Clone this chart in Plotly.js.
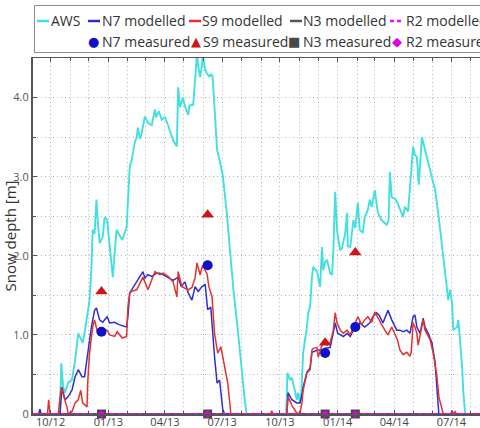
<!DOCTYPE html>
<html>
<head>
<meta charset="utf-8">
<script src="https://cdn.plot.ly/plotly-3.0.1.min.js"></script>
<style>
  html, body { margin: 0; padding: 0; background: #fff; overflow: hidden; }
  #chart { width: 480px; height: 428px; }
</style>
</head>
<body>
<div id="chart"></div>
<script>
// ---- Snow depth series (m) ----
const awsDates = [
  '2012-09-03','2012-10-16','2012-10-18','2012-10-21','2012-10-24','2012-10-29','2012-11-04','2012-11-09',
  '2012-11-14','2012-11-18','2012-11-21','2012-11-24','2012-11-29','2012-12-02','2012-12-05','2012-12-07',
  '2012-12-10','2012-12-13','2012-12-15','2012-12-18','2012-12-23','2012-12-26','2012-12-30','2013-01-03',
  '2013-01-08','2013-01-14','2013-01-18','2013-01-23','2013-01-30','2013-02-01','2013-02-04','2013-02-07',
  '2013-02-12','2013-02-15','2013-02-17','2013-02-20','2013-02-23','2013-02-28','2013-03-03','2013-03-05',
  '2013-03-11','2013-03-16','2013-03-18','2013-03-22','2013-03-27','2013-04-01','2013-04-06','2013-04-14',
  '2013-04-20','2013-04-22','2013-04-25','2013-04-27','2013-04-30','2013-05-02','2013-05-08','2013-05-10',
  '2013-05-16','2013-05-19','2013-05-22','2013-05-24','2013-05-27','2013-05-30','2013-05-31','2013-06-04',
  '2013-06-07','2013-06-11','2013-06-13','2013-06-16','2013-06-19','2013-06-23','2013-06-27','2013-07-02',
  '2013-07-08','2013-07-13','2013-07-19','2013-07-26','2013-08-01','2013-08-06','2013-08-09',
  '2013-10-11','2013-10-13','2013-10-17','2013-10-20','2013-10-22','2013-10-25','2013-10-28','2013-10-30',
  '2013-11-02','2013-11-04','2013-11-07','2013-11-10','2013-11-13','2013-11-15','2013-11-18','2013-11-21',
  '2013-11-23','2013-11-29','2013-12-01','2013-12-04','2013-12-07','2013-12-09','2013-12-12','2013-12-15',
  '2013-12-20','2013-12-23','2013-12-25','2013-12-28','2013-12-31','2014-01-05','2014-01-08','2014-01-13',
  '2014-01-16','2014-01-17','2014-01-21','2014-01-26','2014-01-29','2014-02-02','2014-02-05','2014-02-10',
  '2014-02-13','2014-02-18','2014-02-21','2014-02-24','2014-03-01','2014-03-06','2014-03-12','2014-03-20',
  '2014-03-23','2014-03-25','2014-03-28','2014-04-02','2014-04-06','2014-04-10','2014-04-15','2014-04-18',
  '2014-04-23','2014-04-28','2014-05-01','2014-05-04','2014-05-07','2014-05-10','2014-05-15','2014-05-20',
  '2014-05-28','2014-06-02','2014-06-05','2014-06-10','2014-06-16','2014-06-21','2014-06-26','2014-06-29',
  '2014-07-02','2014-07-04','2014-07-10','2014-07-12','2014-07-15','2014-07-18','2014-07-20','2014-07-23',
  '2014-08-15'
];
const awsDepth = [
  0, 0, 0.64, 0.34, 0.27, 0.40, 0.43, 0.68,
  1.02, 0.96, 0.90, 1.02, 1.28, 1.44, 1.86, 2.33,
  2.28, 2.71, 2.45, 2.16, 2.24, 2.49, 2.45, 2.11,
  1.73, 2.33, 2.28, 2.20, 2.36, 2.62, 3.12, 3.21,
  3.43, 3.50, 3.62, 3.48, 3.55, 3.76, 3.72, 3.68,
  3.65, 3.85, 3.75, 3.83, 3.72, 3.75, 3.65, 3.46,
  3.38, 4.13, 3.88, 3.92, 4.00, 3.91, 3.78, 3.90,
  3.91, 4.22, 4.55, 4.40, 4.26, 4.41, 4.55, 4.35,
  4.30, 4.26, 4.30, 4.26, 3.88, 3.34, 3.21, 3.02,
  2.58, 2.14, 1.57, 1.06, 0.56, 0.18, 0,
  0, 0.52, 0.43, 0.46, 0.39, 0.30, 0.18, 0.27,
  0.14, 0.25, 0.77, 0.94, 1.10, 1.28, 1.35, 1.73,
  1.86, 1.80, 1.72, 1.61, 2.11, 1.82, 1.92, 1.95,
  1.78, 1.76, 2.05, 2.81, 2.31, 2.07, 2.10, 2.29,
  2.54, 2.12, 2.11, 2.45, 2.35, 2.67, 2.33, 2.29,
  2.49, 2.58, 2.71, 2.62, 2.83, 2.54, 2.45, 2.39,
  2.45, 3.06, 2.74, 2.72, 2.67, 2.58, 2.49, 2.62,
  2.56, 3.06, 3.38, 3.27, 3.25, 2.90, 3.50, 3.34,
  3.09, 2.95, 2.83, 2.54, 2.11, 1.82, 1.44, 1.57,
  1.40, 1.06, 1.10, 1.19, 0.94, 0.60, 0.27, 0,
  0
];

const n7Dates = [
  '2012-09-03','2012-09-12','2012-09-14','2012-09-16','2012-10-16','2012-10-19','2012-10-24','2012-10-29',
  '2012-11-04','2012-11-09','2012-11-14','2012-11-20','2012-11-24','2012-11-29','2012-12-05','2012-12-10',
  '2012-12-13','2012-12-18','2012-12-23','2012-12-30','2013-01-03','2013-01-11','2013-01-18','2013-01-30',
  '2013-02-01','2013-02-04','2013-02-07','2013-02-12','2013-02-17','2013-02-25','2013-02-28','2013-03-05',
  '2013-03-11','2013-03-19','2013-03-24','2013-04-01','2013-04-14','2013-04-22','2013-04-27','2013-05-03',
  '2013-05-08','2013-05-14','2013-05-19','2013-05-24','2013-05-30','2013-06-04','2013-06-08','2013-06-13',
  '2013-06-19','2013-06-23','2013-06-27','2013-07-02','2013-07-05',
  '2013-10-12','2013-10-14','2013-10-17','2013-10-20','2013-10-28','2013-11-02','2013-11-05','2013-11-07',
  '2013-11-13','2013-11-18','2013-11-21','2013-12-01','2013-12-07','2013-12-12','2013-12-20','2013-12-25',
  '2013-12-28','2014-01-01','2014-01-10','2014-01-16','2014-01-21','2014-01-26','2014-02-01','2014-02-05',
  '2014-02-13','2014-02-21','2014-02-26','2014-03-04','2014-03-08','2014-03-14','2014-03-20','2014-03-22',
  '2014-03-28','2014-04-05','2014-04-10','2014-04-15','2014-04-21','2014-04-26','2014-05-01','2014-05-04',
  '2014-05-07','2014-05-12','2014-05-17','2014-05-20','2014-05-25','2014-05-31','2014-06-05','2014-06-08',
  '2014-06-11','2014-08-15'
];
const n7Depth = [
  0, 0, 0.06, 0, 0, 0.34, 0.18, 0.22,
  0.30, 0.47, 0.56, 0.47, 0.47, 0.77, 1.10, 1.31,
  1.34, 1.19, 1.16, 1.23, 1.15, 1.16, 1.13, 1.10,
  1.23, 1.53, 1.57, 1.62, 1.69, 1.80, 1.72, 1.76,
  1.74, 1.78, 1.78, 1.75, 1.69, 1.73, 1.61, 1.67,
  1.53, 1.44, 1.61, 1.55, 1.61, 1.64, 1.32, 1.35,
  0.72, 0.39, 0.43, 0.06, 0,
  0, 0.27, 0.22, 0.18, 0.14, 0.14, 0.24, 0.34,
  0.53, 0.58, 0.78, 0.81, 0.81, 0.83, 0.84, 1.02,
  1.15, 1.02, 0.98, 1.02, 0.98, 1.06, 1.09, 1.15,
  1.10, 1.15, 1.23, 1.28, 1.25, 1.15, 1.28, 1.31,
  1.19, 1.06, 1.06, 1.04, 1.06, 1.02, 1.23, 1.25,
  1.10, 1.02, 1.21, 1.10, 1.02, 0.90, 0.65, 0.30,
  0, 0
];

const s9Dates = [
  '2012-09-03','2012-09-26','2012-09-28','2012-09-30','2012-10-13','2012-10-18','2012-10-22','2012-10-27',
  '2012-10-29','2012-11-04','2012-11-09','2012-11-14','2012-11-18','2012-11-21','2012-11-28','2012-11-29',
  '2012-12-02','2012-12-07','2012-12-10','2012-12-15','2012-12-21','2012-12-30','2013-01-03','2013-01-11',
  '2013-01-15','2013-01-23','2013-01-30','2013-02-01','2013-02-04','2013-02-07','2013-02-15','2013-02-25',
  '2013-03-05','2013-03-16','2013-03-24','2013-03-29','2013-04-06','2013-04-14','2013-04-20','2013-04-22',
  '2013-04-28','2013-05-08','2013-05-14','2013-05-19','2013-05-22','2013-05-27','2013-05-31','2013-06-07',
  '2013-06-10','2013-06-15','2013-06-19','2013-06-24','2013-06-29','2013-07-02','2013-07-10','2013-07-15',
  '2013-09-16','2013-09-18','2013-09-20',
  '2013-10-12','2013-10-13','2013-10-14','2013-10-20','2013-10-28','2013-11-02','2013-11-05','2013-11-07',
  '2013-11-13','2013-11-18','2013-11-21','2013-11-23','2013-11-29','2013-12-01','2013-12-07','2013-12-09',
  '2013-12-15','2013-12-20','2013-12-25','2013-12-28','2013-12-31','2014-01-05','2014-01-10','2014-01-16',
  '2014-01-21','2014-01-26','2014-02-02','2014-02-08','2014-02-13','2014-02-18','2014-02-24','2014-03-01',
  '2014-03-06','2014-03-12','2014-03-17','2014-03-22','2014-03-28','2014-04-02','2014-04-06','2014-04-10',
  '2014-04-15','2014-04-21','2014-04-26','2014-04-28','2014-05-01','2014-05-04','2014-05-07','2014-05-09',
  '2014-05-17','2014-05-20','2014-05-28','2014-06-02','2014-06-08','2014-06-11','2014-06-16','2014-06-18',
  '2014-06-30','2014-07-02','2014-07-04','2014-07-07','2014-07-09','2014-08-15'
];
const s9Depth = [
  0, 0, 0.18, 0, 0, 0.34, 0.22, 0.09,
  0, 0.03, 0.14, 0.18, 0.30, 0.14, 0.09, 0.39,
  0.77, 1.10, 1.19, 1.02, 1.06, 1.06, 1.00, 0.98,
  1.04, 0.96, 0.98, 1.35, 1.53, 1.55, 1.57, 1.73,
  1.57, 1.80, 1.76, 1.78, 1.74, 1.67, 1.48, 1.80,
  1.61, 1.57, 1.60, 1.72, 1.91, 1.76, 1.88, 1.77,
  1.61, 1.48, 1.02, 0.77, 0.85, 0.72, 0.39, 0,
  0, 0.04, 0,
  0, 0.18, 0.22, 0.11, 0.01, 0.01, 0.14, 0.30,
  0.52, 0.56, 0.81, 0.83, 0.84, 0.72, 0.87, 0.92,
  0.87, 0.90, 1.06, 1.28, 1.15, 1.06, 1.02, 1.06,
  1.00, 1.10, 1.23, 1.13, 1.19, 1.23, 1.16, 1.29,
  1.21, 1.13, 1.06, 1.00, 1.10, 1.00, 0.94, 0.81,
  0.75, 0.78, 0.73, 0.78, 1.15, 1.10, 1.02, 0.87,
  1.19, 1.06, 0.94, 0.77, 0.47, 0.22, 0.05, 0,
  0, 0.04, 0, 0.03, 0, 0
];

const n3Dates = ['2012-09-03', '2014-08-15'];
const n3Depth = [0, 0];
const r2Dates = ['2012-09-03', '2014-08-15'];
const r2Depth = [0, 0];

// Field survey dates and measured depths (m)
const surveyDates = ['2012-12-21', '2013-06-08', '2013-12-12', '2014-01-29'];
const n7Measured = [1.04, 1.88, 0.77, 1.10];
const s9Measured = [1.55, 2.52, 0.90, 2.04];
const n3Measured = [0, 0, 0, 0];
const r2Measured = [0, 0, 0, 0];

// Axis labels
const yTickVals = [0, 1, 2, 3, 4];
const yTickText = ['0', '1.0', '2.0', '3.0', '4.0'];
const xRange = ['2012-09-03', '2014-08-15 12:00'];
const yTitle = 'Snow depth [m]';

// ---- Styling ----
const C = {
  aws: '#40e0e0', n7: '#2e2ed0', s9: '#e23330', n3: '#555555', r2: '#ff00ff',
  n7m: '#1010c8', s9m: '#d01414', n3m: '#484848', r2m: '#e000e0'
};

const W = 480, H = 428;
const M = { l: 33, r: 0, t: 58, b: 14 };
const PW = W - M.l - M.r, PH = H - M.t - M.b;
const px = p => (p - M.l) / PW;          // page x (px) -> paper x
const py = p => (H - M.b - p) / PH;      // page y (px) -> paper y

const lineTrace = (x, y, name, color, width, dash) => ({
  type: 'scatter', mode: 'lines', x, y, name,
  line: { color, width, dash: dash || 'solid' }, showlegend: false, hoverinfo: 'skip'
});
const markTrace = (x, y, name, color, symbol, size) => ({
  type: 'scatter', mode: 'markers', x, y, name, cliponaxis: false,
  marker: { color, symbol, size, line: { width: 0 } }, showlegend: false, hoverinfo: 'skip'
});

const traces = [
  lineTrace(awsDates, awsDepth, 'AWS', C.aws, 1.9),
  lineTrace(n3Dates, n3Depth, 'N3 modelled', C.n3, 2),
  lineTrace(n7Dates, n7Depth, 'N7 modelled', C.n7, 1.5),
  lineTrace(s9Dates, s9Depth, 'S9 modelled', C.s9, 1.5),
  lineTrace(r2Dates, r2Depth, 'R2 modelled', C.r2, 2, '4px,3px'),
  markTrace(surveyDates, n7Measured, 'N7 measured', C.n7m, 'circle', 10),
  markTrace(surveyDates, s9Measured, 'S9 measured', C.s9m, 'triangle-up', 11),
  markTrace(surveyDates, n3Measured, 'N3 measured', C.n3m, 'square', 9),
  markTrace(surveyDates, r2Measured, 'R2 measured', C.r2m, 'diamond', 6)
];

// ---- Legend (two rows inside a framed box that runs off the right edge) ----
const legendFont = { family: 'Open Sans, sans-serif', size: 14, color: '#333' };
const row1 = { y: 20, names: ['AWS', 'N7 modelled', 'S9 modelled', 'N3 modelled', 'R2 modelled'],
  colors: [C.aws, C.n7, C.s9, C.n3, C.r2], dash: ['solid', 'solid', 'solid', 'solid', 'dash'],
  sample: [[37, 49], [88, 100], [189, 201], [290, 302], [390, 403]], text: [50, 101, 201, 302, 405] };
const row2 = { y: 41, names: ['N7 measured', 'S9 measured', 'N3 measured', 'R2 measured'],
  glyphs: ['●', '▲', '■', '◆'], colors: [C.n7m, C.s9m, C.n3m, C.r2m],
  glyphX: [93, 196, 294, 397], text: [101, 202, 302, 405] };

const shapes = [{
  type: 'rect', xref: 'paper', yref: 'paper', x0: px(34.5), x1: px(520), y0: py(52.5), y1: py(5.5),
  line: { color: '#8c8c8c', width: 1 }, fillcolor: 'rgba(0,0,0,0)', layer: 'above'
}];
const annotations = [];
row1.names.forEach((n, i) => {
  shapes.push({
    type: 'line', xref: 'paper', yref: 'paper',
    x0: px(row1.sample[i][0]), x1: px(row1.sample[i][1]), y0: py(row1.y + 1), y1: py(row1.y + 1),
    line: { color: row1.colors[i], width: 2.5, dash: row1.dash[i] === 'dash' ? '4px,3px' : 'solid' }
  });
  annotations.push({ xref: 'paper', yref: 'paper', x: px(row1.text[i]), y: py(row1.y), text: n,
    xanchor: 'left', yanchor: 'middle', showarrow: false, font: legendFont, borderpad: 0 });
});
row2.names.forEach((n, i) => {
  annotations.push({ xref: 'paper', yref: 'paper', x: px(row2.glyphX[i]), y: py(row2.y), text: row2.glyphs[i],
    xanchor: 'center', yanchor: 'middle', showarrow: false,
    font: { family: 'DejaVu Sans', size: 13, color: row2.colors[i] }, borderpad: 0 });
  annotations.push({ xref: 'paper', yref: 'paper', x: px(row2.text[i]), y: py(row2.y), text: n,
    xanchor: 'left', yanchor: 'middle', showarrow: false, font: legendFont, borderpad: 0 });
});

const gridStyle = { showgrid: true, gridcolor: '#b4b4b4', griddash: '1px,3px', gridwidth: 1 };

const layout = {
  width: W, height: H, margin: M,
  paper_bgcolor: '#fff', plot_bgcolor: '#fff',
  font: { family: 'Open Sans, sans-serif', size: 11, color: '#444' },
  showlegend: false,
  xaxis: Object.assign({
    type: 'date', range: xRange, tickmode: 'linear', tick0: '2012-10-01', dtick: 'M3', tickformat: '%m/%y',
    ticks: 'inside', ticklen: 4, tickcolor: '#555', showline: true, linecolor: '#555', linewidth: 1.5,
    mirror: 'ticks', zeroline: false, automargin: false, fixedrange: true,
    tickfont: { size: 11, color: '#444' }, ticklabelstandoff: -3,
    minor: Object.assign({ tickmode: 'linear', tick0: '2012-10-01', dtick: 'M1', ticks: 'inside', ticklen: 3, tickcolor: '#555' }, gridStyle)
  }, gridStyle),
  yaxis: Object.assign({
    range: [0, 4.5], tickmode: 'array', tickvals: yTickVals, ticktext: yTickText,
    ticks: 'inside', ticklen: 4, tickcolor: '#555', showline: true, linecolor: '#555', linewidth: 2,
    zeroline: false, automargin: false, fixedrange: true,
    tickfont: { size: 11, color: '#555' },
    title: { text: yTitle, font: { size: 15, color: '#333' }, standoff: 4 },
    minor: Object.assign({ tickmode: 'linear', tick0: 0, dtick: 0.5, ticks: 'inside', ticklen: 3, tickcolor: '#555' }, gridStyle)
  }, gridStyle),
  shapes, annotations
};

Plotly.newPlot('chart', traces, layout, { staticPlot: true, displayModeBar: false });
</script>
</body>
</html>
